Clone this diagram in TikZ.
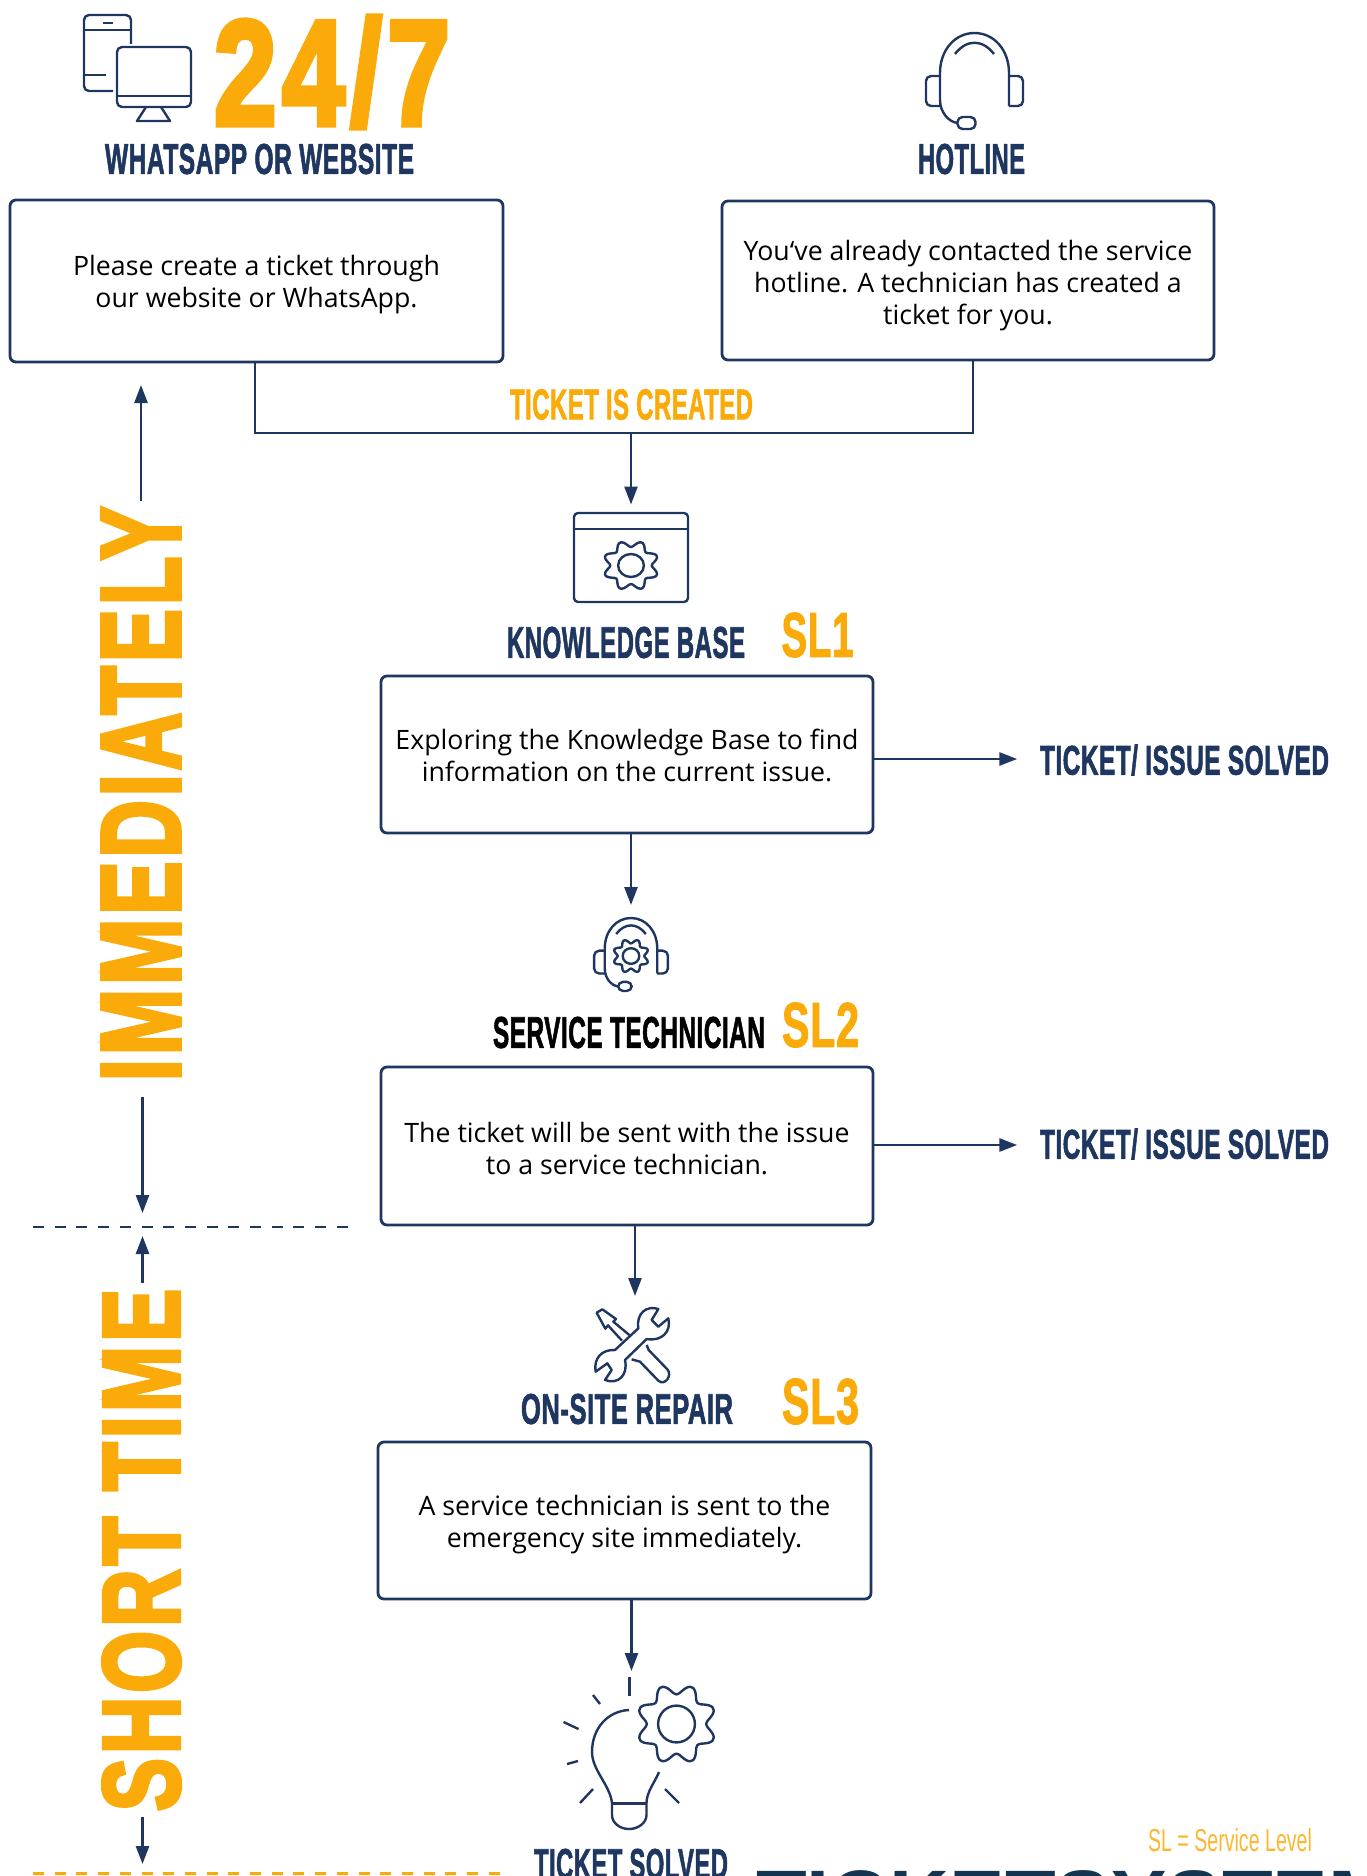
\documentclass[tikz,border=0pt]{standalone}
\usepackage{graphicx}
\usepackage{fontspec}
\setmainfont{Open Sans}
\newfontfamily\dinfont[FakeBold=2,LetterSpace=2]{Liberation Sans Bold}
\newfontfamily\dinwide[FakeBold=4,LetterSpace=5]{Liberation Sans Bold}
\newfontfamily\dinplain{Liberation Sans Bold}
\newfontfamily\dinthin{Liberation Sans}
\usetikzlibrary{calc}
\usetikzlibrary{positioning}
\usetikzlibrary{arrows.meta}

\definecolor{navy}{HTML}{1E3660}
\definecolor{amber}{HTML}{FAAB0A}
\definecolor{lightamber}{HTML}{FDB62F}
\definecolor{sysblue}{HTML}{15344F}

% width, cap height, text
\newcommand{\fitlabel}[3]{\resizebox{#1pt}{#2pt}{\dinfont #3}}
\newcommand{\fitbig}[3]{\resizebox{#1pt}{#2pt}{\dinwide #3}}
\newcommand{\firstline}[1]{\rule{0pt}{#1pt}}
% centre x, centre y, radius x, radius y
\newcommand{\gearicon}[4]{
  \draw[icon] plot[domain=0:355,samples=72,smooth cycle]
    ({#1+#3*(.87+.13*cos(8*(\x-22.5)))*cos(\x)},{#2+#4*(.87+.13*cos(8*(\x-22.5)))*sin(\x)});
  \draw[icon] (#1,#2) ellipse [x radius=.46*#3,y radius=.46*#4];
}

\tikzset{
  icon/.style={navy,line width=2.4pt,line join=round},
  headset/.pic={
    \draw[icon] (34.5,73) -- (34.5,40) .. controls (34.5,17) and (19.5,0) .. (0,0)
      .. controls (-19.5,0) and (-34.5,17) .. (-34.5,40) -- (-34.5,67)
      .. controls (-34.5,79) and (-26,89) .. (-17,90);
    \draw[icon,rounded corners=5pt] (-34.5,43) -- (-48.5,43) -- (-48.5,73) -- (-34.5,73);
    \draw[icon,rounded corners=5pt] (34.5,43) -- (48.5,43) -- (48.5,73) -- (34.5,73);
    \draw[icon] (-19.5,21) .. controls (-8,6) and (8,6) .. (19.5,21);
    \draw[icon,rounded corners=5pt] (-17,84) rectangle (1,96);
  }
}

\begin{document}
\begin{tikzpicture}[%
  >={Triangle[length=18pt,width=13pt]},
  x=1pt,y=-1pt,
  textbox/.style={draw=navy,line width=2.8pt,rounded corners=6pt,inner sep=0pt,
    align=center,text=black,font=\fontsize{26.7}{32}\selectfont},
  lineto/.style={navy,line width=2.6pt},
  dashline/.style={line width=2.4pt,dash pattern=on 11pt off 10.7pt}
]

  \useasboundingbox (0,0) rectangle (1367,1876);
  \clip (0,0) rectangle (1367,1876);

  \coordinate (junc) at (631,433);
  \coordinate (kbtip) at (631,504.5);
  \coordinate (techtip) at (631,905);
  \coordinate (repairtip) at (635,1296);
  \coordinate (bulbtip) at (631.5,1671);
  \coordinate (immtip) at (141,385);
  \coordinate (midtip) at (142.5,1213);
  \coordinate (shorttip) at (142.5,1236);
  \coordinate (endtip) at (142.5,1864);
  \coordinate (dashA) at (33,1227);
  \coordinate (dashB) at (350,1227);
  \coordinate (dashC) at (33,1873);
  \coordinate (dashD) at (502,1873);

  % boxes
  \node[textbox,minimum width=493pt,minimum height=162pt] (webbox) at (256.5,281)
    {\firstline{27.5}Please create a ticket through\\our website or WhatsApp.};
  \node[textbox,minimum width=492pt,minimum height=159pt] (hotbox) at (968,280.5)
    {\firstline{30}You‘ve already contacted the service\\hotline. A technician has created a\\ticket for you.};
  \node[textbox,minimum width=492pt,minimum height=157pt] (kbbox) at (627,754.5)
    {\firstline{23}Exploring the Knowledge Base to find\\information on the current issue.};
  \node[textbox,minimum width=492pt,minimum height=158pt] (techbox) at (627,1146)
    {\firstline{25}The ticket will be sent with the issue\\to a service technician.};
  \node[textbox,minimum width=493pt,minimum height=157pt] (repairbox) at (624.5,1520.5)
    {\firstline{27.5}A service technician is sent to the\\emergency site immediately.};

  % labels
  \node[inner sep=0pt,text=amber] (allday) at (332,72) {\fitbig{236}{108}{24/7}};
  \node[inner sep=0pt,text=navy] (weblabel) at (259.5,159) {\fitlabel{309}{30}{WHATSAPP OR WEBSITE}};
  \node[inner sep=0pt,text=navy] (hotlabel) at (971.5,159) {\fitlabel{107}{30}{HOTLINE}};
  \node[inner sep=0pt,text=amber] (created) at (631.5,404.5) {\fitlabel{243}{30}{TICKET IS CREATED}};
  \node[inner sep=0pt,text=navy] (kblabel) at (626,642.5) {\fitlabel{238}{31}{KNOWLEDGE BASE}};
  \node[inner sep=0pt,text=amber] (slone) at (817.5,635) {\fitlabel{72}{44}{SL1}};
  \node[inner sep=0pt,text=navy] (solvedA) at (1184.5,760) {\fitlabel{289}{30}{TICKET/ ISSUE SOLVED}};
  \node[inner sep=0pt,text=black] (techlabel) at (629,1032.5) {\fitlabel{272}{31}{SERVICE TECHNICIAN}};
  \node[inner sep=0pt,text=amber] (sltwo) at (820.5,1025) {\fitlabel{77}{44}{SL2}};
  \node[inner sep=0pt,text=navy] (solvedB) at (1184.5,1144) {\fitlabel{289}{30}{TICKET/ ISSUE SOLVED}};
  \node[inner sep=0pt,text=navy] (repairlabel) at (627,1409) {\fitlabel{212}{30}{ON-SITE REPAIR}};
  \node[inner sep=0pt,text=amber] (slthree) at (820.5,1401.5) {\fitlabel{77}{45}{SL3}};
  \node[inner sep=0pt,text=navy] (solvedlabel) at (631,1864) {\fitlabel{194}{30}{TICKET SOLVED}};
  \node[inner sep=0pt,text=lightamber] (sllegend) at (1230,1840.5)
    {\resizebox{164pt}{23pt}{\dinthin SL = Service Level}};
  \node[anchor=base west,inner sep=0pt,text=sysblue,font=\dinplain\fontsize{83}{83}\selectfont]
    (systemlabel) at (756,1928) {TICKETSYSTEM};
  \node[inner sep=0pt,text=amber,rotate=90] (imm) at (141,794) {\fitbig{574}{77}{IMMEDIATELY}};
  \node[inner sep=0pt,text=amber,rotate=90] (shorttime) at (141.5,1550) {\fitbig{522}{76}{SHORT TIME}};

  % connectors
  \draw[lineto] (webbox.south -| 255,0) -- (255,0 |- junc) -- (973,0 |- junc) -- (hotbox.south -| 973,0);
  \draw[lineto,->] (junc) -- (kbtip);
  \draw[lineto,->] (kbtip |- kbbox.south) -- (techtip);
  \draw[lineto,->] (repairtip |- techbox.south) -- (repairtip);
  \draw[lineto,->] (bulbtip |- repairbox.south) -- (bulbtip);
  \draw[lineto,->] ([yshift=-4.5pt]kbbox.east) -- ([yshift=1pt,xshift=-22.5pt]solvedA.west);
  \draw[lineto,->] ([yshift=1pt]techbox.east) -- ([yshift=-1pt,xshift=-22.5pt]solvedB.west);
  \draw[lineto,->,shorten <=6pt] (imm.east) -- (immtip);
  \draw[lineto,->,shorten <=16pt] (midtip |- imm.west) -- (midtip);
  \draw[lineto,->,shorten <=6pt] (shorttip |- shorttime.east) -- (shorttip);
  \draw[lineto,->,shorten <=6pt] (endtip |- shorttime.west) -- (endtip);
  \draw[navy,dashline] (dashA) -- (dashB);
  \draw[amber,dashline,line width=3pt] (dashC) -- (dashD);

  % phone and monitor
  \draw[icon,rounded corners=5pt] (131,44) -- (131,15) -- (84,15) -- (84,91) -- (113,91);
  \draw[icon] (84,30) -- (131,30);
  \draw[icon] (84,75) -- (106,75);
  \draw[icon] (103,23) -- (113,23);
  \draw[icon,rounded corners=5pt] (117,47) rectangle (191,107);
  \draw[icon] (117,96) -- (191,96);
  \draw[icon] (146,107) -- (137,121) -- (170,121) -- (161,107);

  % headsets
  \path (974.5,33) pic {headset};
  \path (631,918) pic[scale=.76] {headset};
  \gearicon{631}{956}{18}{17}

  % knowledge base window
  \draw[icon,rounded corners=4pt] (574,513) rectangle (688,602);
  \draw[icon] (574,529) -- (688,529);
  \gearicon{631}{565.5}{28}{25}

  % tools
  \begin{scope}[shift={(530,1270)},scale=.3333]
    \draw[icon] (385,117) .. controls (350,105) and (318,130) .. (325,175) -- (255,240)
      .. controls (215,238) and (190,265) .. (197,305) -- (232,280) -- (245,300) -- (225,330)
      .. controls (265,345) and (295,315) .. (285,270) -- (350,207)
      .. controls (395,215) and (425,185) .. (415,145) -- (385,170) -- (365,150) -- cycle;
    \draw[icon] (298,195) -- (250,155) -- (258,147) -- (217,118) -- (200,128) -- (226,176)
      -- (234,166) -- (276,212);
    \draw[icon] (350,225) -- (356,240) -- (412,298) .. controls (428,315) and (405,350) .. (385,332)
      -- (330,275) -- (305,268);
  \end{scope}

  % bulb with gear
  \draw[icon] (629,1710) .. controls (608,1711) and (592,1728) .. (592,1752)
    .. controls (592,1770) and (610,1785) .. (612,1803) -- (612,1815)
    .. controls (612,1823) and (620,1829) .. (629,1829)
    .. controls (638,1829) and (646.5,1823) .. (646.5,1815) -- (646.5,1803)
    .. controls (646.5,1792) and (655,1782) .. (659,1772);
  \draw[icon,line width=3pt] (612,1803) -- (646.5,1803);
  \draw[icon] (629.5,1677) -- (629.5,1696);
  \draw[icon] (593,1695) -- (600,1704);
  \draw[icon] (563.5,1722) -- (578.5,1729);
  \draw[icon] (567,1764) -- (578,1761);
  \draw[icon] (580,1803) -- (593,1789);
  \draw[icon] (665,1789) -- (679,1803);
  \gearicon{676.5}{1724}{40}{40}

\end{tikzpicture}
\end{document}
